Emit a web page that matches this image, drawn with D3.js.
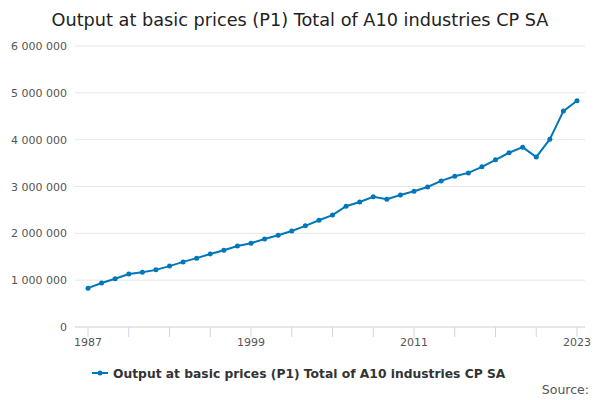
<!DOCTYPE html>
<html><head><meta charset="utf-8">
<script src="https://cdn.jsdelivr.net/npm/d3@7"></script>
<style>body{margin:0;background:#fff;font-family:"DejaVu Sans",sans-serif}</style>
</head><body>
<script>
let years = d3.range(1987, 2024)
let values = [0.83,0.94,1.03,1.13,1.17,1.22,1.30,1.39,1.47,1.56,1.64,1.73,1.79,1.88,1.96,2.05,2.16,2.28,2.39,2.58,2.67,2.78,2.73,2.82,2.90,2.99,3.12,3.22,3.29,3.42,3.57,3.72,3.84,3.63,4.01,4.61,4.83].map(v => v * 1e6)
let yTicks = [0,1e6,2e6,3e6,4e6,5e6,6e6]
let xLabels = [1987,1999,2011,2023]
let seriesName = 'Output at basic prices (P1) Total of A10 industries CP SA'
let color = '#0077bb'

let width = 600, height = 400
let svg = d3.select('body').append('svg').attr('width', width).attr('height', height)

svg.append('text').attr('x', 300).attr('y', 26).attr('text-anchor', 'middle')
    .style('font-size', '17.7px').attr('fill', '#222').text(seriesName)

let x = d3.scaleLinear().domain([1987, 2023]).range([88, 577])
let y = d3.scaleLinear().domain([0, 6e6]).range([327, 46])
let fmt = v => d3.format(',')(v).replace(/,/g, ' ')

// gridlines + y labels
svg.selectAll('.grid').data(yTicks).enter().append('line')
    .attr('x1', 75).attr('x2', 585).attr('y1', d => y(d)).attr('y2', d => y(d))
    .attr('stroke', d => d === 0 ? '#ccc' : '#e6e6e6')
svg.selectAll('.yl').data(yTicks).enter().append('text')
    .attr('x', 67).attr('y', d => y(d) + 4).attr('text-anchor', 'end')
    .style('font-size', '11px').attr('fill', '#555').text(fmt)

// x ticks
svg.selectAll('.xt').data(d3.range(1987, 2024, 3)).enter().append('line')
    .attr('x1', d => x(d)).attr('x2', d => x(d)).attr('y1', 327).attr('y2', 337)
    .attr('stroke', '#ccd6eb')
svg.selectAll('.xl').data(xLabels).enter().append('text')
    .attr('x', d => x(d)).attr('y', 346).attr('text-anchor', 'middle')
    .style('font-size', '11px').attr('fill', '#555').text(d => d)

let pts = years.map((yr, i) => [yr, values[i]])
svg.append('path').datum(pts)
    .attr('d', d3.line().x(d => x(d[0])).y(d => y(d[1])))
    .attr('fill', 'none').attr('stroke', color).attr('stroke-width', 2)
svg.selectAll('.pt').data(pts).enter().append('circle')
    .attr('cx', d => x(d[0])).attr('cy', d => y(d[1])).attr('r', 2.5).attr('fill', color)

// legend
svg.append('line').attr('x1', 92).attr('x2', 108).attr('y1', 373).attr('y2', 373)
    .attr('stroke', color).attr('stroke-width', 2)
svg.append('circle').attr('cx', 100).attr('cy', 373).attr('r', 2.5).attr('fill', color)
svg.append('text').attr('x', 113).attr('y', 378).style('font-size', '12.3px')
    .style('font-weight', 'bold').attr('fill', '#333').text(seriesName)
svg.append('text').attr('x', 589).attr('y', 394).attr('text-anchor', 'end')
    .style('font-size', '12.5px').attr('fill', '#555').text('Source:')
</script>
</body></html>
